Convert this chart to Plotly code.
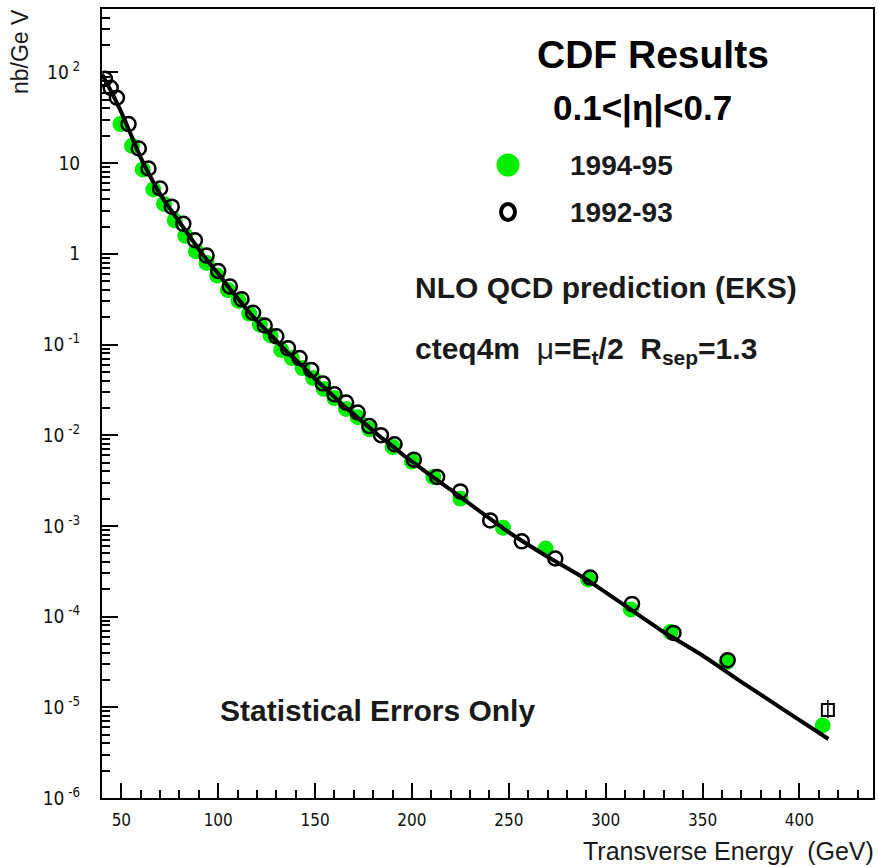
import plotly.graph_objects as go

# ---------------- data ----------------
theory_et = [40, 45, 50, 55, 60, 65, 70, 75, 80, 85, 90, 95, 100, 105, 110, 115, 120, 125,
             130, 135, 140, 145, 150, 155, 160, 165, 170, 175, 180, 185, 190, 195, 200,
             210, 220, 235, 250, 270, 290, 310, 330, 350, 370, 390, 415]
theory_xs = [95.5, 60.3, 36.3, 20.4, 11.5, 7.08, 4.57, 3.16, 2.24, 1.58, 1.12, 0.813, 0.603,
             0.437, 0.324, 0.240, 0.182, 0.141, 0.110, 0.0851, 0.0676, 0.0537, 0.0417, 0.0331,
             0.0263, 0.0209, 0.0170, 0.0138, 0.0112, 0.00912, 0.00759, 0.00617, 0.00513,
             0.00355, 0.00251, 0.00145, 8.51e-4, 4.57e-4, 2.57e-4, 1.32e-4, 6.76e-5, 3.72e-5,
             1.91e-5, 1.0e-5, 4.47e-6]

green_et = [49.5, 55.5, 61, 66.5, 72, 77.5, 83, 88.5, 94, 99.5, 105, 110.5, 116, 121.5, 127,
            132.5, 138, 143.5, 149, 154.5, 160, 166, 172, 178, 190, 200, 211, 225, 247, 269,
            291, 313, 333.5, 362.5, 412]
green_xs = [26.9, 15.5, 8.51, 5.13, 3.55, 2.34, 1.58, 1.07, 0.794, 0.575, 0.398, 0.302, 0.219,
            0.166, 0.126, 0.0871, 0.0708, 0.0550, 0.0427, 0.0324, 0.0257, 0.0195, 0.0158,
            0.0117, 0.00741, 0.00513, 0.00347, 0.00200, 9.55e-4, 5.62e-4, 2.57e-4, 1.20e-4,
            6.76e-5, 3.16e-5, 6.31e-6]

open_et = [41.5, 44.5, 47.7, 53.7, 59, 64, 70, 76, 82, 88, 94, 100, 106, 112, 118, 124, 130,
           136, 142, 148, 154, 160, 166, 172, 178, 184, 191, 201, 213, 225, 240.4, 256.7, 274,
           292, 313.6, 335, 363]
open_xs = [85.1, 67.6, 52.5, 26.9, 14.5, 8.71, 5.25, 3.31, 2.14, 1.41, 0.955, 0.646, 0.437,
           0.316, 0.224, 0.162, 0.123, 0.0912, 0.0708, 0.0525, 0.0372, 0.0282, 0.0229, 0.0178,
           0.0126, 0.0100, 0.00794, 0.00537, 0.00347, 0.00240, 0.00115, 6.76e-4, 4.37e-4,
           2.69e-4, 1.38e-4, 6.61e-5, 3.31e-5]

last_et = [414.7]
last_xs = [9.33e-6]
last_err_up = [2.7e-6]
last_err_down = [1.7e-6]

x_ticks = [50, 100, 150, 200, 250, 300, 350, 400]
y_ticks = [1e-6, 1e-5, 1e-4, 1e-3, 1e-2, 1e-1, 1, 10, 100]
y_ticktext = ["10<sup> -6</sup>", "10<sup> -5</sup>", "10<sup> -4</sup>", "10<sup> -3</sup>",
              "10<sup> -2</sup>", "10<sup> -1</sup>", "1", "10", "10<sup> 2</sup>"]

# ---------------- layout geometry ----------------
W, H = 878, 867
L, R, T, B = 102, 5, 9, 69
PW, PH = W - L - R, H - T - B

def px(x):
    return (x - L) / PW

def py(y):
    return (H - B - y) / PH

FONT = "Liberation Sans, Arial, Helvetica, sans-serif"
TICKFONT = "DejaVu Sans Condensed, Liberation Sans Narrow, Liberation Sans, Arial, sans-serif"
GREEN = "#00ee00"
TXT = "#1a1a1a"

fig = go.Figure()

fig.add_trace(go.Scatter(x=green_et, y=green_xs, mode="markers",
                         marker=dict(symbol="circle", size=16, color=GREEN),
                         name="1994-95", showlegend=False))
fig.add_trace(go.Scatter(x=open_et, y=open_xs, mode="markers",
                         marker=dict(symbol="circle-open", size=14, color="black",
                                     line=dict(width=2.5, color="black")),
                         name="1992-93", showlegend=False))
fig.add_trace(go.Scatter(x=last_et, y=last_xs, mode="markers",
                         marker=dict(symbol="square-open", size=12, color="black",
                                     line=dict(width=2, color="black")),
                         error_y=dict(type="data", array=last_err_up, arrayminus=last_err_down,
                                      color="black", thickness=1.5, width=0),
                         showlegend=False))
fig.add_trace(go.Scatter(x=theory_et, y=theory_xs, mode="lines",
                         line=dict(color="black", width=4, shape="spline", smoothing=0.6),
                         showlegend=False))

minor_y = [k * 10.0 ** n for n in range(-6, 3) for k in range(2, 10) if k * 10.0 ** n <= 500]

fig.update_xaxes(range=[40, 438], showgrid=False, zeroline=False,
                 showline=True, linecolor="black", linewidth=2, mirror=True,
                 ticks="inside", ticklen=15, tickwidth=1.5, tickcolor="black",
                 tickmode="array", tickvals=x_ticks, ticktext=[str(v) for v in x_ticks],
                 tickfont=dict(family=TICKFONT, size=17, color="#111"),
                 ticklabelstandoff=6,
                 minor=dict(ticks="inside", ticklen=8, tickwidth=1.5, tickcolor="black",
                            tickmode="array", tickvals=list(range(40, 440, 10))))
fig.update_yaxes(type="log", range=[-6, 2.699], showgrid=False, zeroline=False,
                 showline=True, linecolor="black", linewidth=2, mirror=True,
                 ticks="inside", ticklen=16, tickwidth=1.5, tickcolor="black",
                 tickmode="array", tickvals=y_ticks, ticktext=y_ticktext,
                 tickfont=dict(family=TICKFONT, size=19, color="#111"),
                 ticklabelstandoff=16,
                 minor=dict(ticks="inside", ticklen=8, tickwidth=1.5, tickcolor="black",
                            tickmode="array", tickvals=minor_y))

ann = []
def txt(text, x, y, size, xanchor="center", color="black", angle=0):
    ann.append(dict(text=text, x=px(x), y=py(y),
                    xref="paper", yref="paper", xanchor=xanchor, yanchor="middle",
                    showarrow=False, textangle=angle,
                    font=dict(family=FONT, size=size, color=color)))

txt("<b>CDF Results</b>", 653, 55, 39)
txt("<b>0.1&lt;|η|&lt;0.7</b>", 642, 108, 35)
txt("<b>1994-95</b>", 568, 165, 28, xanchor="left", color=TXT)
txt("<b>1992-93</b>", 568, 212, 28, xanchor="left", color=TXT)
txt("<b>NLO QCD prediction (EKS)</b>", 413, 287, 30, xanchor="left", color=TXT)
txt("<b>cteq4m  </b>μ<b>=E<sub>t</sub>/2  R<sub>sep</sub>=1.3</b>", 413, 350, 30,
    xanchor="left", color=TXT)
txt("<b>Statistical Errors Only</b>", 218, 710, 30, xanchor="left", color=TXT)
txt("Transverse Energy  (GeV)", 876, 851, 25, xanchor="right", color=TXT)
txt("nb/Ge V", 20, 52, 23, angle=-90, color=TXT)

shapes = [
    dict(type="circle", xref="paper", yref="paper",
         x0=px(508 - 11.5), x1=px(508 + 11.5), y0=py(165 + 11.5), y1=py(165 - 11.5),
         fillcolor=GREEN, line=dict(width=0)),
    dict(type="circle", xref="paper", yref="paper",
         x0=px(508 - 7), x1=px(508 + 7), y0=py(212 + 8), y1=py(212 - 8),
         fillcolor="white", line=dict(width=4, color="black")),
]

fig.update_layout(width=W, height=H, margin=dict(l=L, r=R, t=T, b=B, autoexpand=False),
                  paper_bgcolor="white", plot_bgcolor="white",
                  annotations=ann, shapes=shapes, showlegend=False)

fig.write_html("out.html")
